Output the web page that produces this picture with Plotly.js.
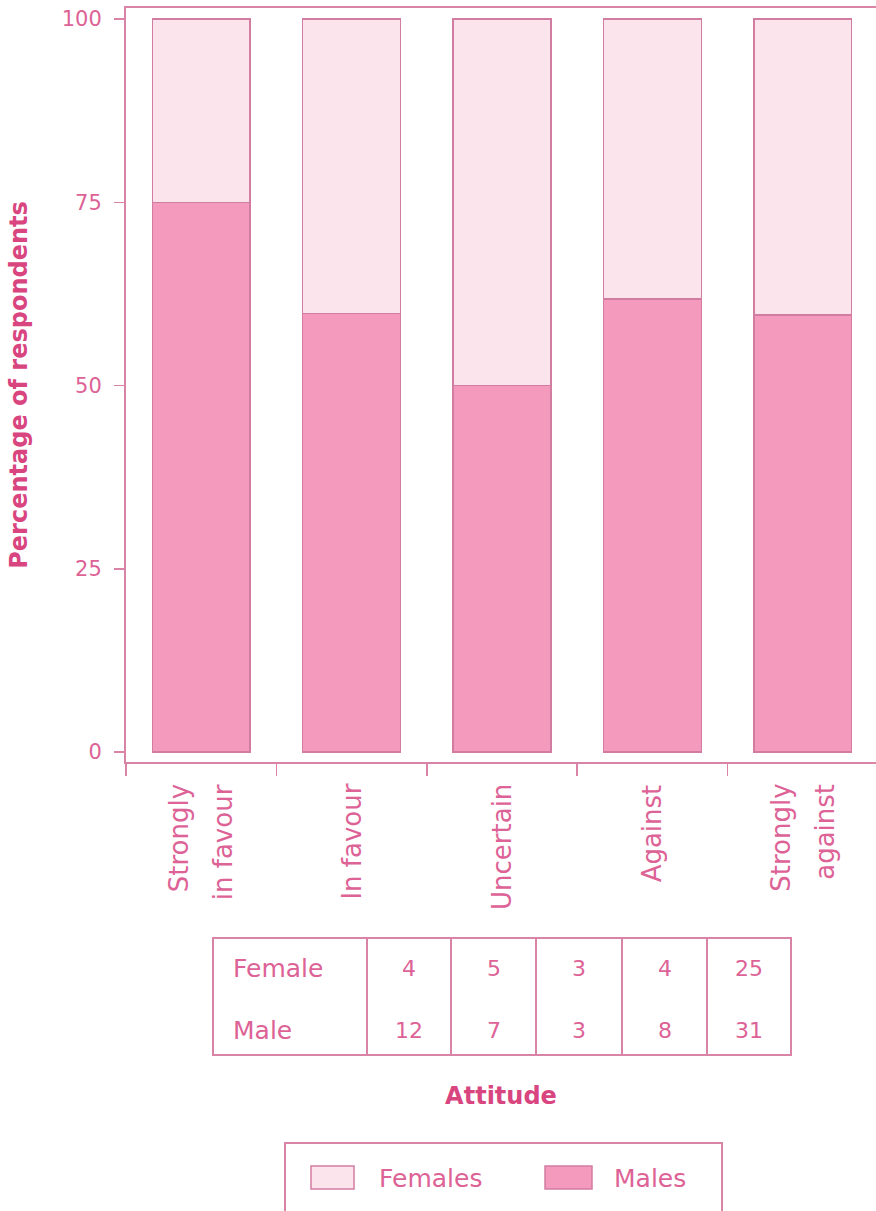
<!DOCTYPE html>
<html>
<head>
<meta charset="utf-8">
<script src="https://cdn.plot.ly/plotly-3.0.1.min.js"></script>
<style>html,body{margin:0;padding:0;background:#fff;}</style>
</head>
<body>
<div id="chart" style="width:876px;height:1211px;"></div>
<script>
// ---- data ----
const categories = ['Strongly in favour', 'In favour', 'Uncertain', 'Against', 'Strongly against'];
const categoryLabelLines = [['Strongly', 'in favour'], ['In favour'], ['Uncertain'], ['Against'], ['Strongly', 'against']];
const malesPct = [75, 59.8, 50, 61.8, 59.6];
const femalesPct = [25, 40.2, 50, 38.2, 40.4];
const yTickVals = [0, 25, 50, 75, 100];
const yTickText = ['0', '25', '50', '75', '100'];
const tableRowLabels = ['Female', 'Male'];
const femaleCounts = [4, 5, 3, 4, 25];
const maleCounts = [12, 7, 3, 8, 31];
const seriesNames = ['Females', 'Males'];
const xTitle = 'Attitude';
const yTitle = 'Percentage of respondents';

// ---- style ----
const FONT = 'DejaVu Sans';
const TXT = '#dd6296';
const BOLD = '#d8457f';
const LINE = '#d983a6';
const MALE_FILL = '#f39abd';
const FEMALE_FILL = '#fce4ec';
const BAR_LINE = '#d27ca1';

// pixel helpers for layout (plot area: x 126..876, y 8..762)
const L = 126, R = 876, T = 8, B = 762;
const px = v => (v - L) / (R - L);
const py = v => (B - v) / (B - T);

const traces = [
  {type: 'bar', name: seriesNames[1], x: categories, y: malesPct, width: 0.65,
   marker: {color: MALE_FILL, line: {color: BAR_LINE, width: 1.5}}, showlegend: false, hoverinfo: 'x+y+name'},
  {type: 'bar', name: seriesNames[0], x: categories, y: femalesPct, width: 0.65,
   marker: {color: FEMALE_FILL, line: {color: BAR_LINE, width: 1.5}}, showlegend: false, hoverinfo: 'x+y+name'}
];

const annotations = [];
const shapes = [];

// category labels (rotated, one annotation per line)
categoryLabelLines.forEach((lines, i) => {
  const n = lines.length;
  lines.forEach((t, j) => {
    annotations.push({
      x: categories[i], xref: 'x', y: py(782), yref: 'paper',
      text: t, showarrow: false, textangle: -90,
      xanchor: 'center', yanchor: 'top', xshift: (j - (n - 1) / 2) * 44,
      font: {family: FONT, size: 26, color: TXT}
    });
  });
});

// table of counts
const tblLeft = 213, tblRight = 791, tblTop = 938, tblBottom = 1055;
const colEdges = [367, 451, 536, 622, 707, 791];
shapes.push({type: 'rect', xref: 'paper', yref: 'paper', x0: px(tblLeft), x1: px(tblRight), y0: py(tblTop), y1: py(tblBottom),
  line: {color: LINE, width: 2}, fillcolor: 'rgba(0,0,0,0)'});
colEdges.slice(0, -1).forEach(e => {
  shapes.push({type: 'line', xref: 'paper', yref: 'paper', x0: px(e), x1: px(e), y0: py(tblTop), y1: py(tblBottom),
    line: {color: LINE, width: 2}});
});
const rowY = [968, 1030];
const rows = [femaleCounts, maleCounts];
tableRowLabels.forEach((lab, r) => {
  annotations.push({x: px(231), xref: 'paper', y: py(rowY[r]), yref: 'paper', text: lab, showarrow: false,
    xanchor: 'left', yanchor: 'middle', font: {family: FONT, size: 25, color: TXT}});
  rows[r].forEach((v, c) => {
    const cx = (colEdges[c] + colEdges[c + 1]) / 2;
    annotations.push({x: px(cx), xref: 'paper', y: py(rowY[r]), yref: 'paper', text: String(v), showarrow: false,
      xanchor: 'center', yanchor: 'middle', font: {family: FONT, size: 22, color: TXT}});
  });
});

// legend (drawn box with swatches)
shapes.push({type: 'rect', xref: 'paper', yref: 'paper', x0: px(285), x1: px(722), y0: py(1143), y1: py(1240),
  line: {color: LINE, width: 2}, fillcolor: 'rgba(0,0,0,0)'});
const legItems = [
  {name: seriesNames[0], fill: FEMALE_FILL, sx0: 311, sx1: 354, tx: 377},
  {name: seriesNames[1], fill: MALE_FILL, sx0: 545, sx1: 592, tx: 612}
];
legItems.forEach(it => {
  shapes.push({type: 'rect', xref: 'paper', yref: 'paper', x0: px(it.sx0), x1: px(it.sx1), y0: py(1166), y1: py(1189),
    line: {color: BAR_LINE, width: 1.5}, fillcolor: it.fill});
  annotations.push({x: px(it.tx), xref: 'paper', y: py(1178), yref: 'paper', text: it.name, showarrow: false,
    xanchor: 'left', yanchor: 'middle', font: {family: FONT, size: 25, color: TXT}});
});

const layout = {
  width: 876, height: 1211,
  margin: {l: L, r: 876 - R, t: T, b: 1211 - B, pad: 0},
  paper_bgcolor: '#ffffff', plot_bgcolor: '#ffffff',
  barmode: 'stack',
  showlegend: false,
  xaxis: {
    type: 'category', range: [-0.5, 4.487], fixedrange: true,
    showline: true, mirror: true, linecolor: LINE, linewidth: 2,
    ticks: 'outside', tickson: 'boundaries', ticklen: 12, tickcolor: LINE, tickwidth: 1.5,
    showticklabels: false, showgrid: false, zeroline: false,
    title: {text: xTitle, standoff: 324, font: {family: FONT, size: 24, color: BOLD, weight: 'bold'}}
  },
  yaxis: {
    range: [-1.36, 101.5], fixedrange: true,
    tickvals: yTickVals, ticktext: yTickText,
    ticks: 'outside', ticklen: 10, tickcolor: LINE, tickwidth: 1.5,
    ticklabelstandoff: 8,
    tickfont: {family: FONT, size: 21, color: TXT},
    showline: true, linecolor: LINE, linewidth: 2,
    showgrid: false, zeroline: false,
    title: {text: yTitle, standoff: 27, font: {family: FONT, size: 24, color: BOLD, weight: 'bold'}}
  },
  annotations: annotations,
  shapes: shapes
};

Plotly.newPlot('chart', traces, layout, {staticPlot: true, displayModeBar: false});
</script>
</body>
</html>
